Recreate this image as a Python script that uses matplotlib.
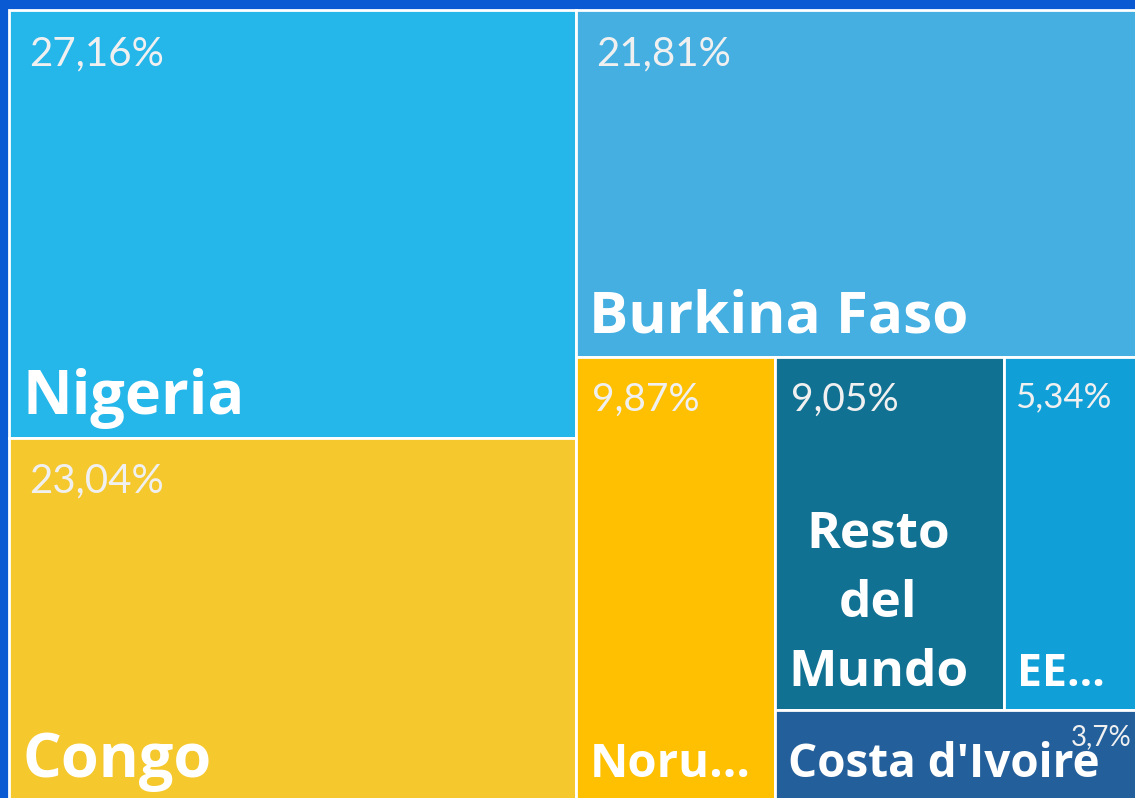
import matplotlib.pyplot as plt
from matplotlib.patches import Rectangle

# data
paises = ["Nigeria", "Congo", "Burkina Faso", "Noruega", "Resto del Mundo", "EE. UU.", "Costa d'Ivoire"]
etiquetas = ["Nigeria", "Congo", "Burkina Faso", "Noru...", "Resto\ndel\nMundo", "EE...", "Costa d'Ivoire"]
porcentajes = [27.16, 23.04, 21.81, 9.87, 9.05, 5.34, 3.70]
colores = ["#25B6EA", "#F5C82E", "#45AFE1", "#FEC000", "#117193", "#119FD8", "#235F9A"]
# how many tiles go in each strip of the treemap
tiras = [2, 1, 1, 2, 1]


def treemap(values, strips, x, y, w, h):
    """strip layout: each strip runs along the shorter side of what is left"""
    total = sum(values)
    scale = w * h / total
    rects = []
    i = 0
    for n in strips:
        group = values[i:i + n]
        area = sum(group) * scale
        if w >= h:
            sw = area / h
            yy = y
            for v in group:
                hh = v * scale / sw
                rects.append((x, yy, sw, hh))
                yy += hh
            x += sw
            w -= sw
        else:
            sh = area / w
            xx = x
            for v in group:
                ww = v * scale / sh
                rects.append((xx, y, ww, sh))
                xx += ww
            y += sh
            h -= sh
        i += n
    return rects


fig = plt.figure(figsize=(11.35, 7.98), dpi=100)
fig.patch.set_facecolor("#0A5AD4")
ax = fig.add_axes([0, 0, 1, 1])
ax.set_xlim(0, 1135)
ax.set_ylim(798, 0)
ax.axis("off")

rects = treemap(porcentajes, tiras, 9, 10, 1130, 791)

# label sizes per tile
pct_size = [29, 29, 29, 28, 28, 25, 20]
name_size = [44, 44, 42, 34, 37, 32, 33]

for i, (x, y, w, h) in enumerate(rects):
    ax.add_patch(Rectangle((x, y), w, h, facecolor=colores[i],
                           edgecolor="white", linewidth=2))
    pct = f"{porcentajes[i]:g}".replace(".", ",") + "%"
    if paises[i] == "Costa d'Ivoire":
        ax.text(x + w - 7, y + 14, pct, ha="right", va="top",
                fontsize=pct_size[i], color="#F0F0F0", family="Lato")
    else:
        pad = 20 if w > 250 else (16 if w > 150 else 11)
        ax.text(x + pad, y + 25, pct, ha="left", va="top",
                fontsize=pct_size[i], color="#F0F0F0", family="Lato")
    ax.text(x + 13, y + h - 24, etiquetas[i], ha="left", va="baseline",
            fontsize=name_size[i], color="white", fontweight="bold",
            family="Open Sans", multialignment="center", linespacing=1.5)

fig.savefig("out.png", dpi=100, facecolor=fig.get_facecolor())
